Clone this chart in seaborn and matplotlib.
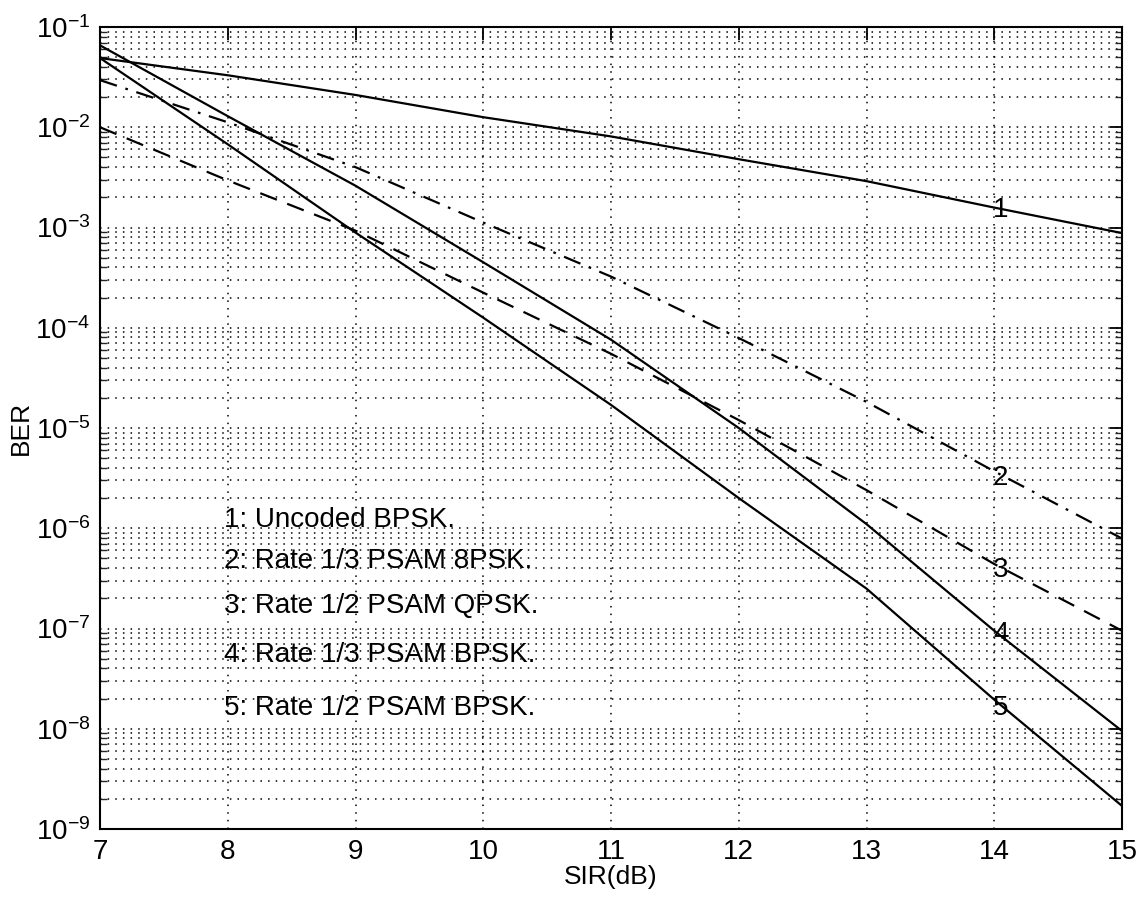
import numpy as np
import pandas as pd
import matplotlib
matplotlib.use("Agg")
import matplotlib.pyplot as plt
from matplotlib.ticker import FixedLocator, FuncFormatter, NullFormatter, MultipleLocator
import seaborn as sns

# SIR grid (dB)
sir = [7, 8, 9, 10, 11, 12, 13, 14, 15]

# Bit error rates for each scheme
ber_uncoded_bpsk = [4.9e-2, 3.3e-2, 2.1e-2, 1.26e-2, 8.1e-3, 4.8e-3, 2.9e-3, 1.58e-3, 8.8e-4]
ber_r13_8psk = [2.95e-2, 1.12e-2, 4.0e-3, 1.12e-3, 3.24e-4, 7.9e-5, 1.82e-5, 3.7e-6, 7.9e-7]
ber_r12_qpsk = [1.0e-2, 2.95e-3, 9.3e-4, 2.24e-4, 5.5e-5, 1.2e-5, 2.4e-6, 4.4e-7, 9.5e-8]
ber_r13_bpsk = [6.56e-2, 1.29e-2, 2.61e-3, 4.5e-4, 7.6e-5, 1.0e-5, 1.1e-6, 9.5e-8, 9.5e-9]
ber_r12_bpsk = [4.9e-2, 6.76e-3, 8.9e-4, 1.26e-4, 1.7e-5, 2.0e-6, 2.5e-7, 1.95e-8, 1.7e-9]

# y-axis decades shown
decades = [-9, -8, -7, -6, -5, -4, -3, -2, -1]

curve_ids = ["1", "2", "3", "4", "5"]
legend_lines = [
    "1: Uncoded BPSK.",
    "2: Rate 1/3 PSAM 8PSK.",
    "3: Rate 1/2 PSAM QPSK.",
    "4: Rate 1/3 PSAM BPSK.",
    "5: Rate 1/2 PSAM BPSK.",
]
# on-curve number tags (SIR, BER)
tag_x = [14.05, 14.05, 14.05, 14.05, 14.05]
tag_y = [1.5e-3, 3.2e-6, 3.8e-7, 8.9e-8, 1.6e-8]
# legend text anchors
legend_x = 7.97
legend_y = [1.2e-6, 4.7e-7, 1.66e-7, 5.5e-8, 1.6e-8]

series = [ber_uncoded_bpsk, ber_r13_8psk, ber_r12_qpsk, ber_r13_bpsk, ber_r12_bpsk]
styles = ["-", (0, (8, 4, 1.2, 4)), (0, (8, 5)), "-", "-"]

df = pd.DataFrame({
    "SIR": np.tile(sir, len(series)),
    "BER": np.concatenate(series),
    "curve": np.repeat(curve_ids, len(sir)),
})

sns.set_theme(style="white")
plt.rcParams["font.family"] = ["Liberation Sans", "DejaVu Sans"]
plt.rcParams["mathtext.default"] = "regular"
plt.rcParams["text.color"] = "black"
plt.rcParams["axes.labelcolor"] = "black"

fig = plt.figure(figsize=(11.45, 9.0), dpi=100)
ax = fig.add_axes([100 / 1145, 1 - 829 / 900, 1022 / 1145, 802 / 900])

for cid, ls in zip(curve_ids, styles):
    sub = df[df["curve"] == cid]
    sns.lineplot(data=sub, x="SIR", y="BER", ax=ax, color="black",
                 linewidth=1.6, linestyle=ls, legend=False)

ax.set_yscale("log")
ax.set_xlim(7, 15)
ax.set_ylim(1e-9, 1e-1)

major_y = [10.0 ** d for d in decades]
minor_y = [m * 10.0 ** d for d in decades[:-1] for m in range(2, 10)]
ax.xaxis.set_major_locator(MultipleLocator(1))
ax.yaxis.set_major_locator(FixedLocator(major_y))
ax.yaxis.set_minor_locator(FixedLocator(minor_y))
ax.yaxis.set_minor_formatter(NullFormatter())
ax.yaxis.set_major_formatter(FuncFormatter(lambda v, p: r"$10^{%d}$" % int(round(np.log10(v)))))

dot = (0, (1, 4))
ax.grid(which="major", axis="both", color="black", linestyle=dot, linewidth=1.1)
ax.grid(which="minor", axis="y", color="black", linestyle=dot, linewidth=1.1)
ax.set_axisbelow(True)

ax.tick_params(which="major", direction="in", length=9, width=1.3,
               top=True, right=True, labelsize=20, colors="black", pad=7)
ax.tick_params(which="minor", direction="in", length=5, width=1.0,
               left=True, right=True)
for s in ax.spines.values():
    s.set_visible(True)
    s.set_color("black")
    s.set_linewidth(1.5)

ax.set_xlabel("SIR(dB)", fontsize=19, labelpad=0)
ax.set_ylabel("BER", fontsize=19, labelpad=2)

for cid, tx, ty in zip(curve_ids, tag_x, tag_y):
    ax.text(tx, ty, cid, fontsize=20, ha="center", va="center", color="black")

for txt, ly in zip(legend_lines, legend_y):
    ax.text(legend_x, ly, txt, fontsize=20, ha="left", va="center", color="black")

fig.savefig("out.png", dpi=100, facecolor="white")
